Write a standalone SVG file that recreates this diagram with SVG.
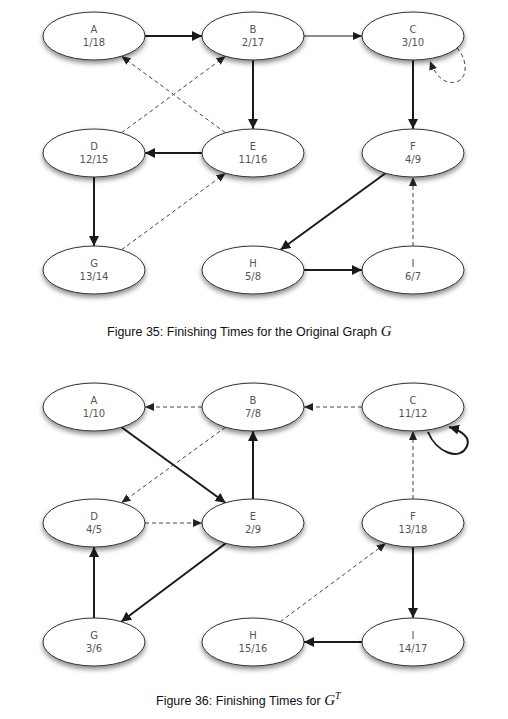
<svg xmlns="http://www.w3.org/2000/svg" width="508" height="719" viewBox="0 0 508 719">
<style>
.node ellipse{fill:#fff;stroke:#333;stroke-width:1;filter:url(#sh)}
.node text{font-family:"DejaVu Sans",sans-serif;font-size:10px;fill:#555;text-anchor:middle}
.thick{stroke:#1a1a1a;stroke-width:2;fill:none;marker-end:url(#ah)}
.thin{stroke:#1a1a1a;stroke-width:1;fill:none;marker-end:url(#as)}
.dash{stroke:#444;stroke-width:1;stroke-dasharray:4 3;fill:none;marker-end:url(#ad)}
.cap{font-family:"Liberation Sans",Arial,sans-serif;font-size:12.5px;fill:#111}
.math{font-family:"Liberation Serif","Times New Roman",serif;font-style:italic;fill:#111}
</style>
<defs>
<filter id="sh" x="-20%" y="-20%" width="140%" height="160%">
<feDropShadow dx="0" dy="3" stdDeviation="2.5" flood-color="#000" flood-opacity="0.45"/>
</filter>
<marker id="ah" markerUnits="userSpaceOnUse" markerWidth="12" markerHeight="12" refX="10" refY="5" orient="auto"><path d="M0,0 L10,5 L0,10 Z" fill="#1a1a1a"/></marker>
<marker id="as" markerUnits="userSpaceOnUse" markerWidth="12" markerHeight="12" refX="9" refY="4" orient="auto"><path d="M0,0 L9,4 L0,8 Z" fill="#1a1a1a"/></marker>
<marker id="ad" markerUnits="userSpaceOnUse" markerWidth="12" markerHeight="12" refX="9" refY="4" orient="auto"><path d="M0,0 L9,4 L0,8 Z" fill="#222"/></marker>
</defs>

<g id="edges-top">
<line class="thick" x1="145" y1="36" x2="202" y2="36"/>
<line class="thin" x1="304" y1="36" x2="362" y2="36"/>
<path class="dash" d="M457,48 C470,62 468,86 448,82 C440,80 434,72 430,61"/>
<line class="thick" x1="413" y1="60" x2="413" y2="129"/>
<line class="thick" x1="253" y1="60" x2="253" y2="129"/>
<line class="dash" x1="225.5" y1="132.8" x2="121.5" y2="56.2"/>
<line class="dash" x1="121.5" y1="132.8" x2="225.5" y2="56.2"/>
<line class="thick" x1="202" y1="153" x2="145" y2="153"/>
<line class="thick" x1="94" y1="177" x2="94" y2="246"/>
<line class="dash" x1="121.5" y1="249.8" x2="225.5" y2="173.2"/>
<line class="thick" x1="385.5" y1="173.2" x2="280.5" y2="249.8"/>
<line class="dash" x1="413" y1="246" x2="413" y2="177"/>
<line class="thick" x1="304" y1="270" x2="362" y2="270"/>
</g>

<g id="edges-bottom">
<line class="dash" x1="202" y1="407" x2="145" y2="407"/>
<line class="dash" x1="362" y1="407" x2="304" y2="407"/>
<path class="thick" d="M428,432 C436,452 460,462 467,446 C471,437 460,430 449,427"/>
<line class="thick" x1="121.5" y1="427.2" x2="225.5" y2="502.8"/>
<line class="dash" x1="225.5" y1="427.2" x2="121.5" y2="502.8"/>
<line class="thick" x1="253" y1="499" x2="253" y2="431"/>
<line class="dash" x1="413" y1="499" x2="413" y2="431"/>
<line class="dash" x1="145" y1="523" x2="202" y2="523"/>
<line class="thick" x1="225.8" y1="543.3" x2="121.2" y2="621.7"/>
<line class="thick" x1="94" y1="618" x2="94" y2="547"/>
<line class="dash" x1="280.2" y1="621.7" x2="385.8" y2="543.3"/>
<line class="thick" x1="413" y1="547" x2="413" y2="618"/>
<line class="thick" x1="362" y1="642" x2="304" y2="642"/>
</g>

<g id="tA" class="node"><ellipse cx="94" cy="36" rx="51" ry="24"/><text x="94" y="33">A</text><text x="94" y="46">1/18</text></g>
<g id="tB" class="node"><ellipse cx="253" cy="36" rx="51" ry="24"/><text x="253" y="33">B</text><text x="253" y="46">2/17</text></g>
<g id="tC" class="node"><ellipse cx="413" cy="36" rx="51" ry="24"/><text x="413" y="33">C</text><text x="413" y="46">3/10</text></g>
<g id="tD" class="node"><ellipse cx="94" cy="153" rx="51" ry="24"/><text x="94" y="150">D</text><text x="94" y="163">12/15</text></g>
<g id="tE" class="node"><ellipse cx="253" cy="153" rx="51" ry="24"/><text x="253" y="150">E</text><text x="253" y="163">11/16</text></g>
<g id="tF" class="node"><ellipse cx="413" cy="153" rx="51" ry="24"/><text x="413" y="150">F</text><text x="413" y="163">4/9</text></g>
<g id="tG" class="node"><ellipse cx="94" cy="270" rx="51" ry="24"/><text x="94" y="267">G</text><text x="94" y="280">13/14</text></g>
<g id="tH" class="node"><ellipse cx="253" cy="270" rx="51" ry="24"/><text x="253" y="267">H</text><text x="253" y="280">5/8</text></g>
<g id="tI" class="node"><ellipse cx="413" cy="270" rx="51" ry="24"/><text x="413" y="267">I</text><text x="413" y="280">6/7</text></g>

<text class="cap" x="107" y="336">Figure 35: Finishing Times for the Original Graph <tspan class="math" font-size="15">G</tspan></text>

<g id="bA" class="node"><ellipse cx="94" cy="407" rx="51" ry="24"/><text x="94" y="404">A</text><text x="94" y="417">1/10</text></g>
<g id="bB" class="node"><ellipse cx="253" cy="407" rx="51" ry="24"/><text x="253" y="404">B</text><text x="253" y="417">7/8</text></g>
<g id="bC" class="node"><ellipse cx="413" cy="407" rx="51" ry="24"/><text x="413" y="404">C</text><text x="413" y="417">11/12</text></g>
<g id="bD" class="node"><ellipse cx="94" cy="523" rx="51" ry="24"/><text x="94" y="520">D</text><text x="94" y="533">4/5</text></g>
<g id="bE" class="node"><ellipse cx="253" cy="523" rx="51" ry="24"/><text x="253" y="520">E</text><text x="253" y="533">2/9</text></g>
<g id="bF" class="node"><ellipse cx="413" cy="523" rx="51" ry="24"/><text x="413" y="520">F</text><text x="413" y="533">13/18</text></g>
<g id="bG" class="node"><ellipse cx="94" cy="642" rx="51" ry="24"/><text x="94" y="639">G</text><text x="94" y="652">3/6</text></g>
<g id="bH" class="node"><ellipse cx="253" cy="642" rx="51" ry="24"/><text x="253" y="639">H</text><text x="253" y="652">15/16</text></g>
<g id="bI" class="node"><ellipse cx="413" cy="642" rx="51" ry="24"/><text x="413" y="639">I</text><text x="413" y="652">14/17</text></g>

<text class="cap" x="156" y="705">Figure 36: Finishing Times for <tspan class="math" font-size="15">G</tspan><tspan class="math" font-size="10" dy="-6">T</tspan></text>
</svg>
